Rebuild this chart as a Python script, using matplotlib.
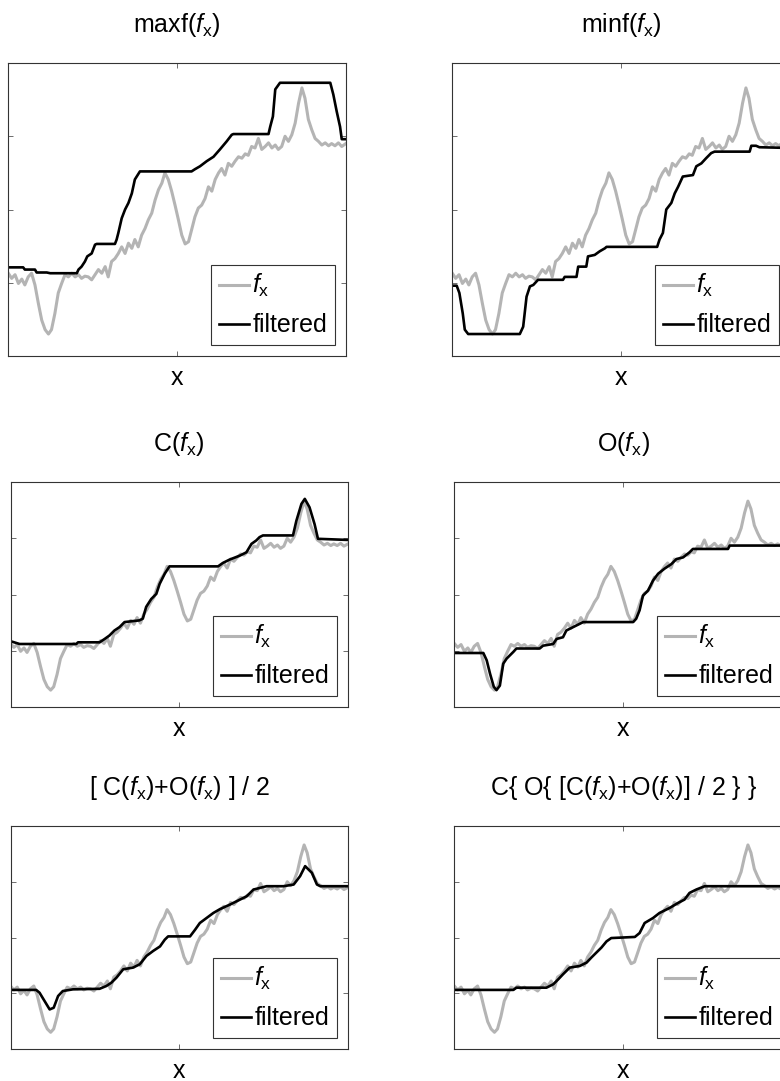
import matplotlib
matplotlib.use("Agg")
import matplotlib.pyplot as plt

plt.rcParams['font.family'] = ['Liberation Sans', 'DejaVu Sans']
plt.rcParams['mathtext.fontset'] = 'custom'
plt.rcParams['mathtext.rm'] = 'Liberation Sans'
plt.rcParams['mathtext.it'] = 'Liberation Sans:italic'

# raw signal f_x (same in every panel)
fx_x = [0, 1.0, 2.0, 3.0, 4.0, 4.9, 5.9, 6.9, 7.9, 8.9,
        9.9, 10.9, 11.9, 12.8, 13.8, 14.8, 15.8, 16.8, 17.8, 18.8,
        19.8, 20.8, 21.7, 22.7, 23.7, 24.7, 25.7, 26.7, 27.7, 28.7,
        29.6, 30.6, 31.6, 32.6, 33.6, 34.6, 35.6, 36.6, 37.5, 38.5,
        39.5, 40.5, 41.5, 42.5, 43.5, 44.5, 45.5, 46.4, 47.4, 48.4,
        49.4, 50.4, 51.4, 52.4, 53.4, 54.3, 55.3, 56.3, 57.3, 58.3,
        59.3, 60.3, 61.3, 62.3, 63.2, 64.2, 65.2, 66.2, 67.2, 68.2,
        69.2, 70.2, 71.1, 72.1, 73.1, 74.1, 75.1, 76.1, 77.1, 78.1,
        79.1, 80.0, 81.0, 82.0, 83.0, 84.0, 85.0, 86.0, 87.0, 87.9,
        88.9, 89.9, 90.9, 91.9, 92.9, 93.9, 94.9, 95.8, 96.8, 97.8,
        98.8, 100]
fx_y = [1.13, 1.06, 1.11, 0.99, 1.05, 0.97, 1.08, 1.13, 0.97, 0.72,
        0.49, 0.36, 0.30, 0.36, 0.58, 0.86, 0.99, 1.11, 1.08, 1.13,
        1.08, 1.11, 1.06, 1.09, 1.08, 1.04, 1.11, 1.18, 1.13, 1.22,
        1.08, 1.29, 1.33, 1.40, 1.49, 1.40, 1.54, 1.47, 1.59, 1.49,
        1.65, 1.74, 1.86, 1.95, 2.13, 2.27, 2.36, 2.50, 2.41, 2.25,
        2.06, 1.86, 1.65, 1.53, 1.56, 1.72, 1.90, 2.02, 2.06, 2.15,
        2.31, 2.25, 2.41, 2.50, 2.56, 2.47, 2.63, 2.59, 2.66, 2.72,
        2.70, 2.76, 2.74, 2.86, 2.84, 2.97, 2.82, 2.86, 2.91, 2.84,
        2.88, 2.82, 2.86, 3.00, 2.93, 3.02, 3.18, 3.45, 3.66, 3.52,
        3.23, 3.09, 2.97, 2.93, 2.88, 2.91, 2.87, 2.90, 2.87, 2.91,
        2.86, 2.90]

# filtered outputs
maxf_x = [0, 4.4, 4.9, 7.9, 8.4, 11.4, 12.4, 20.3, 20.8, 21.7, 22.7, 23.4,
          24.7, 25.7, 26.2, 31.6, 32.1, 32.6, 33.6, 34.6, 35.6, 36.6, 37.5,
          39.0, 54.3, 55.3, 56.8, 58.8, 60.8, 62.7, 64.7, 66.2, 66.7, 77.1,
          77.6, 78.4, 79.1, 80.5, 95.4, 96.3, 97.3, 98.3, 98.8, 100]
maxf_y = [1.21, 1.21, 1.18, 1.18, 1.14, 1.14, 1.13, 1.13, 1.18, 1.22, 1.29, 1.36,
          1.40, 1.52, 1.53, 1.53, 1.59, 1.68, 1.88, 2.00, 2.09, 2.22, 2.41,
          2.52, 2.52, 2.55, 2.59, 2.66, 2.72, 2.82, 2.93, 3.02, 3.03, 3.03,
          3.13, 3.27, 3.64, 3.73, 3.73, 3.57, 3.34, 3.13, 2.96, 2.96]

minf_x = [0, 1.3, 2.1, 3.1, 3.7, 4.7, 20.0, 21.0, 22.0, 23.0, 24.0, 25.4,
          32.8, 33.3, 36.8, 37.3, 39.7, 40.2, 42.2, 43.7, 45.2, 45.7, 60.7,
          61.4, 62.4, 63.4, 64.9, 65.9, 66.9, 68.3, 71.3, 72.3, 73.8, 75.2,
          76.7, 77.7, 88.1, 88.6, 90.0, 91.0, 100]
minf_y = [0.96, 0.96, 0.86, 0.58, 0.36, 0.30, 0.30, 0.40, 0.81, 0.95, 0.97, 1.04,
          1.04, 1.08, 1.08, 1.22, 1.22, 1.36, 1.38, 1.43, 1.47, 1.49, 1.49,
          1.59, 1.68, 2.00, 2.09, 2.22, 2.31, 2.45, 2.47, 2.59, 2.63, 2.70,
          2.77, 2.79, 2.79, 2.87, 2.87, 2.85, 2.84]

close_x = [0, 2.7, 19.5, 20.0, 26.4, 27.9, 29.3, 30.8, 32.3, 33.8, 38.2, 39.2,
           40.2, 41.7, 43.2, 44.2, 45.7, 47.1, 61.5, 62.9, 64.9, 67.9, 69.9,
           71.4, 72.8, 73.8, 74.8, 83.7, 84.7, 86.2, 87.2, 88.6, 90.1, 91.1, 100]
close_y = [1.17, 1.12, 1.12, 1.15, 1.15, 1.21, 1.27, 1.36, 1.42, 1.51, 1.54, 1.57,
           1.78, 1.92, 2.01, 2.19, 2.37, 2.50, 2.50, 2.56, 2.62, 2.69, 2.75,
           2.90, 2.96, 3.02, 3.05, 3.05, 3.31, 3.61, 3.70, 3.55, 3.25, 2.99, 2.97]

open_x = [0, 8.6, 9.6, 10.6, 11.7, 12.5, 13.5, 14.5, 15.5, 17.5, 18.4, 25.3,
          26.3, 29.3, 30.3, 32.2, 33.2, 35.2, 37.2, 38.2, 53.0, 53.9, 54.9,
          55.9, 57.4, 58.9, 60.4, 62.3, 64.3, 65.8, 67.8, 69.7, 70.7, 81.1,
          81.6, 100]
open_y = [0.96, 0.96, 0.83, 0.59, 0.36, 0.30, 0.38, 0.77, 0.86, 0.98, 1.04, 1.04,
          1.09, 1.12, 1.21, 1.24, 1.36, 1.42, 1.48, 1.51, 1.51, 1.57, 1.72,
          1.98, 2.07, 2.25, 2.37, 2.46, 2.54, 2.63, 2.66, 2.75, 2.81, 2.81,
          2.87, 2.87]

avg_x = [0, 7.6, 8.6, 10.1, 11.6, 12.8, 14.1, 15.5, 18.5, 26.4, 28.4, 29.9,
         31.4, 33.4, 36.3, 38.3, 40.3, 42.3, 44.3, 45.7, 46.7, 53.2, 54.7,
         56.1, 58.1, 60.1, 62.1, 65.0, 67.0, 70.0, 72.0, 75.9, 80.9, 83.9,
         85.8, 87.3, 89.3, 90.8, 91.8, 100]
avg_y = [1.06, 1.06, 1.01, 0.86, 0.71, 0.74, 0.95, 1.04, 1.07, 1.08, 1.13, 1.19,
         1.28, 1.43, 1.46, 1.52, 1.67, 1.76, 1.84, 1.96, 2.02, 2.02, 2.14,
         2.26, 2.35, 2.44, 2.51, 2.59, 2.65, 2.74, 2.86, 2.92, 2.92, 2.95,
         3.10, 3.28, 3.16, 2.95, 2.92, 2.92]

coc_x = [0, 17.5, 18.4, 27.3, 29.3, 30.8, 32.2, 34.2, 37.2, 39.2, 40.6, 42.1,
         43.6, 45.1, 46.5, 53.5, 54.9, 56.4, 58.9, 60.8, 63.8, 66.3, 68.2,
         69.7, 71.7, 74.2, 100]
coc_y = [1.06, 1.06, 1.10, 1.10, 1.16, 1.25, 1.34, 1.46, 1.49, 1.55, 1.64, 1.73,
         1.82, 1.93, 1.99, 2.01, 2.08, 2.26, 2.35, 2.44, 2.53, 2.62, 2.68,
         2.80, 2.86, 2.92, 2.92]

titles = ['maxf($f_{\\mathrm{x}}$)', 'minf($f_{\\mathrm{x}}$)',
          'C($f_{\\mathrm{x}}$)', 'O($f_{\\mathrm{x}}$)',
          '[ C($f_{\\mathrm{x}}$)+O($f_{\\mathrm{x}}$) ] / 2',
          'C{ O{ [C($f_{\\mathrm{x}}$)+O($f_{\\mathrm{x}}$)] / 2 } }']
filtered = [(maxf_x, maxf_y), (minf_x, minf_y), (close_x, close_y),
            (open_x, open_y), (avg_x, avg_y), (coc_x, coc_y)]

W, H = 780, 1081
fig = plt.figure(figsize=(W / 100, H / 100), dpi=100)

# axes boxes in pixels: left, top, bottom
boxes = [(8.3, 63, 356), (452.3, 63, 356),
         (10.5, 482, 707), (454.3, 482, 707),
         (10.5, 826, 1049), (454.3, 826, 1049)]
aw = 337.5

for i, (l, t, b) in enumerate(boxes):
    ax = fig.add_axes([l / W, (H - b) / H, aw / W, (b - t) / H])
    ax.plot(fx_x, fx_y, color='#b4b4b4', lw=2.2, label='$f_{\\mathrm{x}}$')
    fxs, fys = filtered[i]
    ax.plot(fxs, fys, color='black', lw=1.9, label='filtered')
    ax.set_xlim(0, 100)
    ax.set_ylim(0, 4)
    ax.set_xticks([50])
    ax.set_yticks([1, 2, 3])
    ax.tick_params(direction='in', length=3.5, width=0.6, color='#555555',
                   top=True, right=True, labelleft=False, labelbottom=False)
    for s in ax.spines.values():
        s.set_color('#333333')
        s.set_linewidth(0.8)
    ax.set_title(titles[i], fontsize=18, pad=22)
    ax.set_xlabel('x', fontsize=18, labelpad=7)
    leg = ax.legend(loc='lower right', fontsize=18, handlelength=1.2,
                    handletextpad=0.15, borderpad=0.3, labelspacing=0.55,
                    borderaxespad=0.45, fancybox=False, framealpha=1)
    leg.get_frame().set_edgecolor('#333333')
    leg.get_frame().set_linewidth(0.8)

fig.savefig('out.png', dpi=100)
